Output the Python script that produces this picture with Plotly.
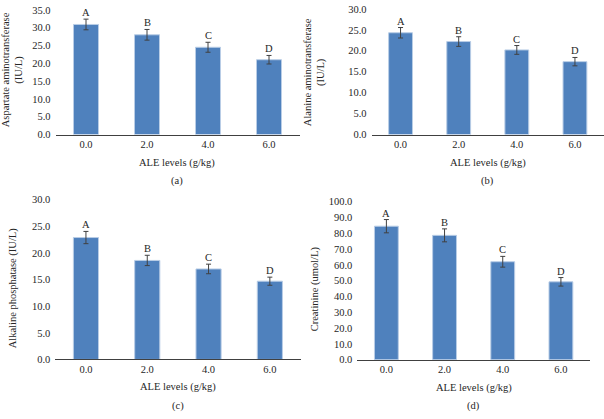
import plotly.graph_objects as go

levels = ["0.0", "2.0", "4.0", "6.0"]
letters = ["A", "B", "C", "D"]

ast_vals = [30.9, 28.0, 24.5, 21.0]
ast_err = [1.5, 1.5, 1.4, 1.2]
alt_vals = [24.3, 22.2, 20.2, 17.4]
alt_err = [1.25, 1.15, 1.05, 1.0]
alp_vals = [22.9, 18.6, 17.0, 14.7]
alp_err = [1.15, 0.97, 0.9, 0.76]
cre_vals = [84.5, 78.7, 62.0, 49.3]
cre_err = [4.2, 4.1, 3.4, 2.7]

y_titles = ["Aspartate aminotransferase<br>(IU/L)",
            "Alanine aminotransferase<br>(IU/L)",
            "Alkaline phosphatase (IU/L)",
            "Creatinine (umol/L)"]
panel_labels = ["(a)", "(b)", "(c)", "(d)"]
x_title = "ALE levels (g/kg)"
y_ranges = [[0, 35], [0, 30], [0, 30], [0, 100]]
y_dticks = [5, 5, 5, 10]

W, H = 604, 419
FONT = "Liberation Serif"
BAR = "#4F81BD"
TXT = "#262626"

# panel geometry in pixels: x0, x1, ybottom, ytop
geo = [(55.5, 299.5, 133, 5),
       (371.5, 604, 133, 4),
       (55.3, 300.5, 364, 200),
       (357.3, 590, 364.3, 202)]
ytitle_pos = [(13, 67), (315, 69), (13, 291), (315, 292)]
xtitle_y = [162, 162, 392, 393]
plabel_y = [181, 181, 412, 412]

series = [(ast_vals, ast_err), (alt_vals, alt_err), (alp_vals, alp_err), (cre_vals, cre_err)]

fig = go.Figure()
annotations = []
for i, (vals, errs) in enumerate(series):
    n = "" if i == 0 else str(i + 1)
    fig.add_trace(go.Bar(
        x=levels, y=vals, xaxis="x" + n, yaxis="y" + n,
        marker=dict(color=BAR, line=dict(color="#B9CDE6", width=1)),
        error_y=dict(type="data", array=errs, visible=True,
                     color="#404040", thickness=1, width=2.5),
        showlegend=False, hoverinfo="skip"))
    x0, x1, yb, yt = geo[i]
    fig.update_layout(**{
        "xaxis" + n: dict(domain=[x0 / W, x1 / W], anchor="y" + n, type="category",
                          showline=True, linecolor="#404040", linewidth=1,
                          showgrid=False, ticks="", zeroline=False,
                          tickfont=dict(family=FONT, size=10.5, color=TXT),
                          fixedrange=True),
        "yaxis" + n: dict(domain=[1 - yb / H, 1 - yt / H], anchor="x" + n,
                          range=y_ranges[i], dtick=y_dticks[i], tickformat=".1f",
                          showline=False, showgrid=False, zeroline=False, ticks="",
                          tickfont=dict(family=FONT, size=10.5, color=TXT),
                          ticklabelstandoff=4, fixedrange=True),
    })
    for j, lab in enumerate(letters):
        annotations.append(dict(x=j, y=vals[j] + errs[j], xref="x" + n, yref="y" + n,
                                text=lab, showarrow=False, yanchor="bottom", yshift=-1,
                                font=dict(family=FONT, size=10.5, color=TXT)))
    cx = (x0 + x1) / 2
    annotations.append(dict(x=cx / W, y=1 - xtitle_y[i] / H, xref="paper", yref="paper",
                            text=x_title, showarrow=False, xanchor="center", yanchor="middle",
                            font=dict(family=FONT, size=10.5, color=TXT)))
    annotations.append(dict(x=cx / W, y=1 - plabel_y[i] / H, xref="paper", yref="paper",
                            text=panel_labels[i], showarrow=False, xanchor="center", yanchor="middle",
                            font=dict(family=FONT, size=10.5, color=TXT)))
    tx, ty = ytitle_pos[i]
    annotations.append(dict(x=tx / W, y=1 - ty / H, xref="paper", yref="paper",
                            text=y_titles[i], showarrow=False, textangle=-90,
                            xanchor="center", yanchor="middle",
                            font=dict(family=FONT, size=10.5, color=TXT)))

fig.update_layout(width=W, height=H, margin=dict(l=0, r=0, t=0, b=0),
                  paper_bgcolor="white", plot_bgcolor="white",
                  bargap=0.59, annotations=annotations)

fig.write_html("out.html")
